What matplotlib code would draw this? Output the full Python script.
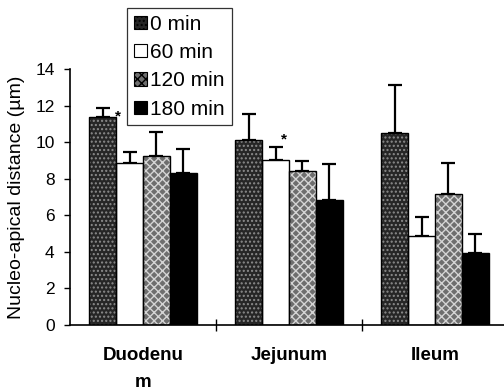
import matplotlib
matplotlib.use("Agg")
import matplotlib.pyplot as plt
import numpy as np
from matplotlib.patches import Patch

categories = ["Duodenu\nm", "Jejunum", "Ileum"]
series = ["0 min", "60 min", "120 min", "180 min"]
means = {
    "0 min":   [11.35, 10.1, 10.5],
    "60 min":  [8.85, 9.05, 4.85],
    "120 min": [9.25, 8.4, 7.15],
    "180 min": [8.3, 6.85, 3.95],
}
errs = {
    "0 min":   [0.5, 1.45, 2.65],
    "60 min":  [0.6, 0.7, 1.05],
    "120 min": [1.3, 0.55, 1.7],
    "180 min": [1.3, 1.95, 1.05],
}
# significance marks: (series, category index, height of the mark)
stars = [("0 min", 0, 11.4), ("60 min", 1, 10.15)]
yticks = [0, 2, 4, 6, 8, 10, 12, 14]

styles = {
    "0 min":   dict(fc="#262626", hatch="....", hc="#8c8c8c"),
    "60 min":  dict(fc="white", hatch=None, hc="black"),
    "120 min": dict(fc="#6e6e6e", hatch="xxxx", hc="#d4d4d4"),
    "180 min": dict(fc="black", hatch=None, hc="black"),
}
star_dx = [0.015, -0.035]

plt.rcParams["font.family"] = ["Liberation Sans", "DejaVu Sans"]
plt.rcParams["hatch.linewidth"] = 1.0

W, H = 504, 391
fig = plt.figure(figsize=(W / 100, H / 100), dpi=100)
ax = fig.add_axes([70 / W, 1 - 325 / H, (W - 70) / W, (325 - 69) / H])

x = np.arange(len(categories))
group = 0.735
bw = group / len(series)
handles = []
for i, s in enumerate(series):
    st = styles[s]
    pos = x - group / 2 + bw * (i + 0.5)
    ax.bar(pos, means[s], bw, color=st["fc"], edgecolor=st["hc"],
           hatch=st["hatch"], linewidth=0, zorder=2)
    ax.bar(pos, means[s], bw, fill=False, edgecolor="black",
           linewidth=1.0, zorder=3)
    ax.errorbar(pos, means[s], yerr=[np.zeros(len(x)), errs[s]], fmt="none",
                ecolor="black", elinewidth=1.6, capsize=4.8, capthick=1.6,
                zorder=1)
    handles.append(Patch(facecolor=st["fc"], edgecolor="black",
                         hatch=st["hatch"], linewidth=0.8, label=s))
    for k, (ss, ci, sy) in enumerate(stars):
        if ss == s:
            ax.text(pos[ci] + bw / 2 + star_dx[k], sy, "*",
                    fontsize=11, fontweight="bold", ha="center", va="center")

ax.set_ylim(0, 14)
ax.set_xlim(-0.5, -0.5 + (W - 70) / 146)
ax.set_yticks(yticks)
ax.tick_params(axis="y", direction="out", length=4, width=1.0, pad=7,
               labelsize=12.5)
ax.set_xticks([0.5, 1.5])
ax.set_xticklabels([])
ax.tick_params(axis="x", direction="inout", length=9, width=1.0)
for xi, c in zip(x, categories):
    ax.text(xi, -1.2, c, ha="center", va="top", fontsize=13.5,
            fontweight="bold", linespacing=1.8)

for sp in ["top", "right"]:
    ax.spines[sp].set_visible(False)
for sp in ["left", "bottom"]:
    ax.spines[sp].set_linewidth(1.2)

ax.set_ylabel("Nucleo-apical distance (µm)", fontsize=14)
ax.yaxis.set_label_coords(-0.104, 0.5)

leg = fig.legend(handles=handles, loc="upper left",
                 bbox_to_anchor=(127 / W, 1 - 8 / H),
                 bbox_transform=fig.transFigure, fontsize=15,
                 frameon=True, fancybox=False, shadow=False,
                 handlelength=0.62, handleheight=0.62, handletextpad=0.18,
                 labelspacing=0.45, borderpad=0.32, borderaxespad=0)
leg.get_frame().set_edgecolor("black")
leg.get_frame().set_linewidth(0.9)
leg.set_zorder(10)

fig.savefig("out.png", dpi=100)
